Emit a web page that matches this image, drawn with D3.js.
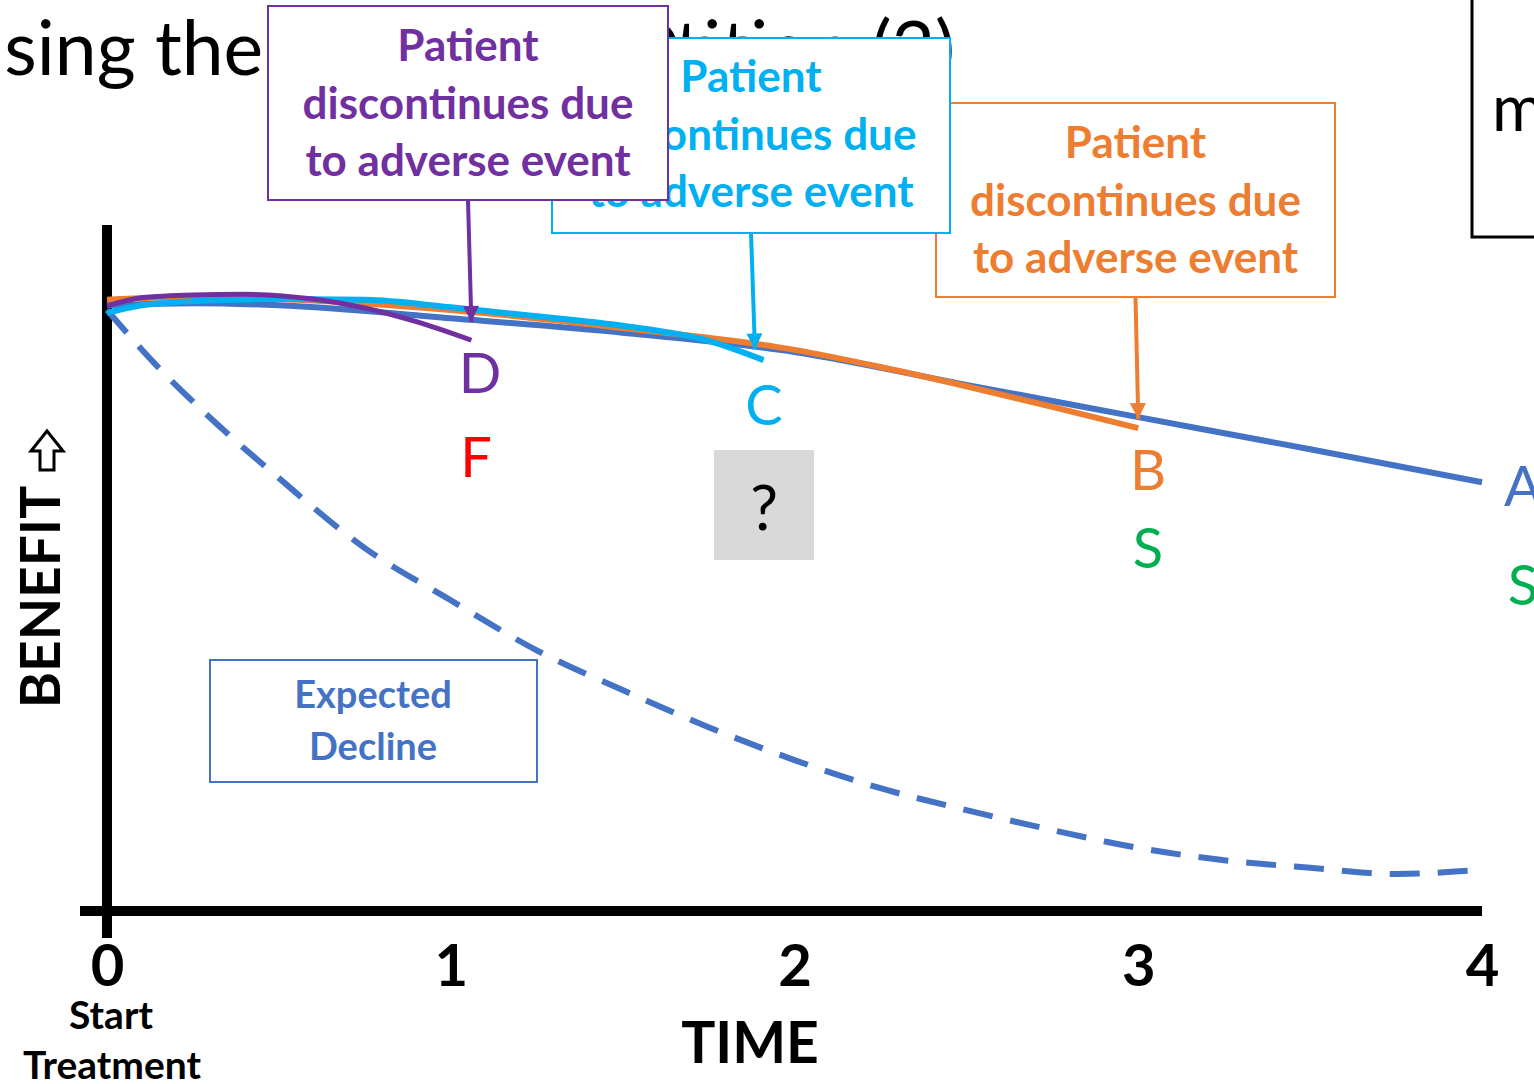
<!DOCTYPE html>
<html><head><meta charset="utf-8">
<script src="https://cdn.jsdelivr.net/npm/d3@7"></script>
<style>html,body{margin:0;padding:0;background:#fff;overflow:hidden}svg{display:block}</style>
</head><body><svg id="chart" width="1534" height="1084"></svg>
<script>
// Time axis
const timeTicks = [0, 1, 2, 3, 4];
const tickNames = ["0", "1", "2", "3", "4"];

// A: patient stays on treatment for the full period
const aTime = [0, 0.25, 0.5, 1, 1.5, 2, 2.5, 3, 3.5, 4];
const aBenefit = [88.3, 88.6, 88.3, 86.4, 84.3, 81.5, 76.7, 72.0, 67.3, 62.5];
// B: discontinues at year 3
const bTime = [0, 0.25, 0.5, 1, 1.5, 2, 2.25, 2.5, 2.75, 3];
const bBenefit = [89.1, 89.5, 89.2, 87.6, 85.0, 81.8, 79.3, 76.5, 73.5, 70.4];
// C: discontinues just before year 2
const cTime = [0, 0.1, 0.25, 0.5, 0.75, 1, 1.25, 1.5, 1.75, 1.91];
const cBenefit = [87.2, 88.3, 88.9, 89.2, 89.1, 88.0, 86.7, 85.3, 83.1, 80.3];
// D: discontinues shortly after year 1
const dTime = [0, 0.1, 0.25, 0.4, 0.6, 0.75, 0.9, 1.06];
const dBenefit = [88.2, 89.4, 89.8, 89.9, 89.2, 87.9, 85.9, 83.2];
// Expected decline without treatment
const declineTime = [0, 0.15, 0.3, 0.5, 0.75, 1, 1.25, 1.5, 1.75, 2, 2.25, 2.5, 2.75, 3, 3.25, 3.5, 3.75, 4];
const declineBenefit = [87.6, 79.2, 71.9, 63.1, 52.9, 45.3, 38.0, 32.2, 26.8, 22.0, 17.9, 14.7, 11.8, 9.2, 7.4, 6.3, 5.4, 6.0];
// Times at which the adverse-event callouts point (D, C, B)
const stopTimes = [1.06, 1.885, 3];

const COL = {A: "#4472C4", B: "#ED7D31", C: "#00B0F0", D: "#7030A0", red: "#FF0000", green: "#00B050"};
const FONT = "Lato, 'Open Sans', sans-serif";

const svg = d3.select("#chart");
const x = d3.scaleLinear().domain([0, 4]).range([107, 1482]);
const y = d3.scaleLinear().domain([0, 100]).range([911, 225]);
const zip = (t, v) => t.map((d, i) => [d, v[i]]);
const line = d3.line().x(d => x(d[0])).y(d => y(d[1])).curve(d3.curveMonotoneX);
const aAt = t => y(d3.scaleLinear().domain(aTime).range(aBenefit)(t));

// Slide title (partly covered by the callouts)
svg.append("text").attr("x", -49).attr("y", 75).attr("font-family", FONT).attr("font-size", 75)
  .attr("fill", "#000").text("Using the Discontinuation");
svg.append("text").attr("x", 955).attr("y", 75).attr("text-anchor", "end").attr("font-family", FONT).attr("font-size", 75)
  .attr("fill", "#000").text("Option (2)");

// Right-hand box cut by the slide edge
svg.append("rect").attr("x", 1472).attr("y", -10).attr("width", 100).attr("height", 247)
  .attr("fill", "#fff").attr("stroke", "#000").attr("stroke-width", 3);
svg.append("text").attr("x", 1492).attr("y", 131).attr("font-family", FONT).attr("font-size", 64).text("m");

// Axes
svg.append("line").attr("x1", 80).attr("x2", 1482).attr("y1", 911).attr("y2", 911)
  .attr("stroke", "#000").attr("stroke-width", 10);
svg.append("line").attr("x1", 107).attr("x2", 107).attr("y1", 225).attr("y2", 938)
  .attr("stroke", "#000").attr("stroke-width", 10);

const xAxis = svg.append("g").attr("transform", "translate(0,940)")
  .call(d3.axisBottom(x).tickValues(timeTicks).tickFormat((d, i) => tickNames[i]).tickSize(0).tickPadding(0));
xAxis.select(".domain").remove();
xAxis.selectAll("text").attr("font-family", FONT).attr("font-weight", 700).attr("font-size", 58)
  .attr("fill", "#000").attr("dy", "0.8em");

svg.append("text").attr("x", 111).attr("y", 1029).attr("text-anchor", "middle").attr("font-family", FONT)
  .attr("font-weight", 700).attr("font-size", 39).text("Start");
svg.append("text").attr("x", 112).attr("y", 1079).attr("text-anchor", "middle").attr("font-family", FONT)
  .attr("font-weight", 700).attr("font-size", 39).text("Treatment");
svg.append("text").attr("x", 750).attr("y", 1063).attr("text-anchor", "middle").attr("font-family", FONT)
  .attr("font-weight", 700).attr("font-size", 57).text("TIME");

// Y-axis title with hollow up-arrow
svg.append("text").attr("transform", "translate(60,597) rotate(-90)").attr("text-anchor", "middle")
  .attr("font-family", FONT).attr("font-weight", 700).attr("font-size", 55).text("BENEFIT");
svg.append("path").attr("d", "M47,431 L63,451 L54,451 L54,470 L40,470 L40,451 L31,451 Z")
  .attr("fill", "#fff").attr("stroke", "#000").attr("stroke-width", 3).attr("stroke-linejoin", "miter");

// Curves
svg.append("path").datum(zip(declineTime, declineBenefit)).attr("d", line).attr("fill", "none")
  .attr("stroke", COL.A).attr("stroke-width", 6).attr("stroke-dasharray", "30,18");
[[aTime, aBenefit, COL.A, 6], [bTime, bBenefit, COL.B, 6], [cTime, cBenefit, COL.C, 6], [dTime, dBenefit, COL.D, 5]]
  .forEach(([t, v, c, w]) => {
    svg.append("path").datum(zip(t, v)).attr("d", line).attr("fill", "none")
      .attr("stroke", c).attr("stroke-width", w);
  });

// Arrowheads
const defs = svg.append("defs");
[["D", COL.D], ["C", COL.C], ["B", COL.B]].forEach(([k, c]) => {
  defs.append("marker").attr("id", "arr" + k).attr("viewBox", "0 0 10 10").attr("refX", 10).attr("refY", 5)
    .attr("markerUnits", "userSpaceOnUse").attr("markerWidth", 18).attr("markerHeight", 16).attr("orient", "auto")
    .append("path").attr("d", "M0,0 L10,5 L0,10 Z").attr("fill", c);
});

// Callout boxes (drawn back to front) with arrows to the point of discontinuation
const callouts = [
  {k: "B", c: COL.B, x0: 936, y0: 103, w: 399, h: 194, t: stopTimes[2], base: 158},
  {k: "C", c: COL.C, x0: 552, y0: 38, w: 398, h: 195, t: stopTimes[1], base: 92},
  {k: "D", c: COL.D, x0: 268, y0: 6, w: 400, h: 194, t: stopTimes[0], base: 61}
];
const calloutLines = ["Patient", "discontinues due", "to adverse event"];
callouts.forEach(o => {
  const cx = o.x0 + o.w / 2;
  svg.append("line").attr("x1", cx).attr("y1", o.y0 + o.h).attr("x2", x(o.t)).attr("y2", aAt(o.t) + 2)
    .attr("stroke", o.c).attr("stroke-width", 4).attr("marker-end", `url(#arr${o.k})`);
  svg.append("rect").attr("x", o.x0).attr("y", o.y0).attr("width", o.w).attr("height", o.h)
    .attr("fill", "#fff").attr("stroke", o.c).attr("stroke-width", 2);
  calloutLines.forEach((s, i) => {
    svg.append("text").attr("x", cx).attr("y", o.base + i * 57.5).attr("text-anchor", "middle")
      .attr("font-family", FONT).attr("font-weight", 700).attr("font-size", 44).attr("fill", o.c).text(s);
  });
});

// Expected decline label
svg.append("rect").attr("x", 210).attr("y", 660).attr("width", 327).attr("height", 122)
  .attr("fill", "#fff").attr("stroke", COL.A).attr("stroke-width", 2);
svg.append("text").attr("x", 373).attr("y", 708).attr("text-anchor", "middle").attr("font-family", FONT)
  .attr("font-weight", 700).attr("font-size", 38).attr("fill", COL.A).text("Expected");
svg.append("text").attr("x", 373).attr("y", 760).attr("text-anchor", "middle").attr("font-family", FONT)
  .attr("font-weight", 700).attr("font-size", 38).attr("fill", COL.A).text("Decline");

// Outcome letters
const letters = [
  {s: "D", c: COL.D, x: 480, y: 393}, {s: "F", c: COL.red, x: 476, y: 477},
  {s: "C", c: COL.C, x: 764, y: 425},
  {s: "B", c: COL.B, x: 1148, y: 490}, {s: "S", c: COL.green, x: 1148, y: 568},
  {s: "A", c: COL.A, x: 1523, y: 506}, {s: "S", c: COL.green, x: 1523, y: 605}
];
letters.forEach(l => {
  svg.append("text").attr("x", l.x).attr("y", l.y).attr("text-anchor", "middle").attr("font-family", FONT)
    .attr("font-size", 56).attr("fill", l.c).text(l.s);
});

// Unknown outcome
svg.append("rect").attr("x", 714).attr("y", 450).attr("width", 100).attr("height", 110).attr("fill", "#D9D9D9");
svg.append("text").attr("x", 764).attr("y", 530).attr("text-anchor", "middle").attr("font-family", FONT)
  .attr("font-size", 62).attr("fill", "#000").text("?");
</script></body></html>
